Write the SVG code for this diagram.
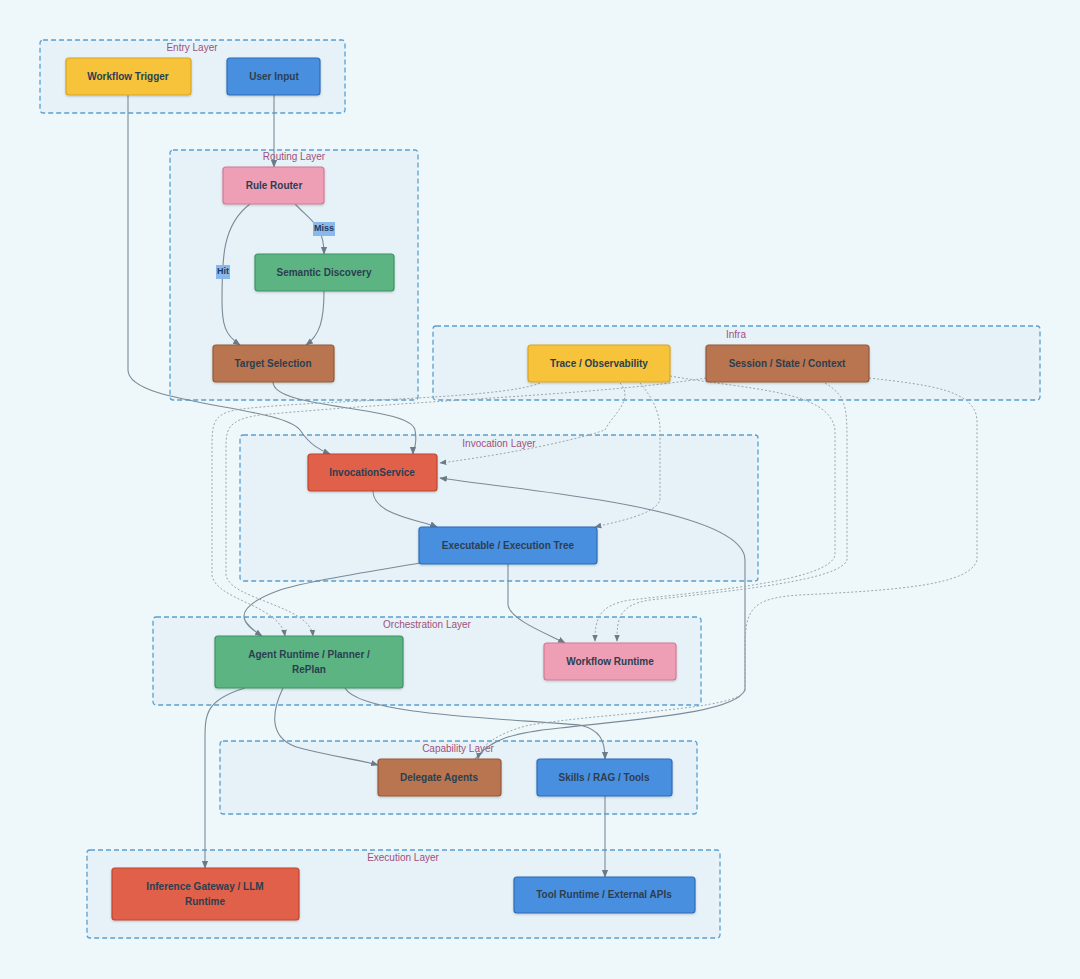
<svg xmlns="http://www.w3.org/2000/svg" width="1080" height="979" viewBox="0 0 1080 979">
<defs>
<style>
.grp{fill:#e6f2f8;stroke:#5a9fd0;stroke-width:1.3;stroke-dasharray:5 3}
.gl{font-family:"Liberation Sans",Arial,sans-serif;font-size:10px;fill:#a0507a;text-anchor:middle}
.nd{stroke-width:1.2;filter:url(#sh)}
.nt{font-family:"Liberation Sans",Arial,sans-serif;font-size:10px;font-weight:bold;fill:#2c3e50;text-anchor:middle;dominant-baseline:middle}
.e{fill:none;stroke:#7a8a96;stroke-width:1.1;marker-end:url(#ar)}
.d{fill:none;stroke:#9aa6ae;stroke-width:1;stroke-dasharray:2 2;marker-end:url(#ar)}
.lb{fill:#8ab8ea}
.lt{font-family:"Liberation Sans",Arial,sans-serif;font-size:9px;font-weight:bold;fill:#1f3a60;text-anchor:middle;dominant-baseline:middle}
</style>
<marker id="ar" viewBox="0 0 10 10" refX="9" refY="5" markerWidth="7" markerHeight="7" orient="auto"><path d="M0,1L10,5L0,9z" fill="#6a7a86"/></marker>
<filter id="sh" x="-10%" y="-20%" width="130%" height="150%"><feDropShadow dx="0" dy="1" stdDeviation="1" flood-opacity="0.2"/></filter>
</defs>
<rect width="1080" height="979" fill="#eef8fa"/>
<g id="groups">
<rect class="grp" x="40" y="40" width="305" height="73" rx="3"/><text class="gl" x="192" y="51">Entry Layer</text>
<rect class="grp" x="170" y="150" width="248" height="250" rx="3"/><text class="gl" x="294" y="160">Routing Layer</text>
<rect class="grp" x="433" y="326" width="607" height="74" rx="3"/><text class="gl" x="736" y="338">Infra</text>
<rect class="grp" x="240" y="435" width="518" height="146" rx="3"/><text class="gl" x="499" y="447">Invocation Layer</text>
<rect class="grp" x="153" y="617" width="548" height="88" rx="3"/><text class="gl" x="427" y="628">Orchestration Layer</text>
<rect class="grp" x="220" y="741" width="477" height="73" rx="3"/><text class="gl" x="458" y="752">Capability Layer</text>
<rect class="grp" x="87" y="850" width="633" height="88" rx="3"/><text class="gl" x="403" y="861">Execution Layer</text>
</g>
<g id="connectors">
<path class="e" d="M274,95 L274,167"/>
<path class="e" d="M128,95 L128,370 C128,405 280,405 300,430 C310,445 320,450 330,454"/>
<path class="e" d="M273,382 C273,410 410,405 415,430 C418,445 413,450 413,454"/>
<path class="e" d="M250,204 C222,225 222,260 222,300 C222,325 225,335 240,345"/>
<path class="e" d="M295,204 C310,220 324,225 324,254"/>
<path class="e" d="M324,291 C324,320 320,335 306,345"/>
<path class="e" d="M373,491 C373,515 420,520 437,527"/>
<path class="e" d="M420,563 C380,570 310,580 280,590 C225,610 245,625 262,636"/>
<path class="e" d="M508,564 L508,605 C510,620 550,635 565,643"/>
<path class="e" d="M245,688 C205,700 205,715 205,740 L205,868"/>
<path class="e" d="M283,688 C270,715 270,740 300,748 C330,756 360,760 378,765"/>
<path class="e" d="M345,688 C360,715 500,718 580,725 C600,730 605,740 605,759"/>
<path class="e" d="M605,796 L605,877"/>
<path class="e" d="M475,759 C490,740 510,733 560,728 C650,718 735,712 745,690 L745,560 C745,535 690,515 600,500 C540,490 480,484 440,478"/>
<path class="d" d="M620,383 C635,400 612,415 605,430 C560,445 480,458 440,463"/>
<path class="d" d="M640,383 C650,395 660,410 660,430 L660,500 C655,515 615,522 595,527"/>
<path class="d" d="M670,376 C750,390 830,390 835,430 L835,555 C830,580 720,590 630,600 C598,605 595,620 595,641"/>
<path class="d" d="M825,383 C845,395 847,405 847,440 L847,560 C840,580 740,590 650,600 C618,605 617,620 617,641"/>
<path class="d" d="M869,378 C930,385 975,390 977,420 L977,560 C970,585 900,590 800,595 C750,598 745,610 745,650 L745,690 C740,710 610,712 530,725 C500,732 480,745 478,759"/>
<path class="d" d="M540,383 C500,400 300,400 235,410 C212,415 212,425 212,450 L212,575 C215,600 280,605 285,636"/>
<path class="d" d="M706,378 C600,395 420,400 260,415 C226,420 226,430 226,450 L226,575 C230,600 310,605 313,636"/>
</g>
<g id="edge-labels">
<rect class="lb" x="216" y="265" width="14" height="14"/><text class="lt" x="223" y="272">Hit</text>
<rect class="lb" x="313" y="222" width="22" height="14"/><text class="lt" x="324" y="229">Miss</text>
</g>
<g id="n-workflow-trigger"><rect class="nd" x="66" y="58" width="125" height="37" rx="3" fill="#f7c33a" stroke="#d9a520"/><text class="nt" x="128" y="77">Workflow Trigger</text></g>
<g id="n-user-input"><rect class="nd" x="227" y="58" width="93" height="37" rx="3" fill="#4a8fe0" stroke="#2d6cb8"/><text class="nt" x="274" y="77" fill="#1a3560">User Input</text></g>
<g id="n-rule-router"><rect class="nd" x="223" y="167" width="101" height="37" rx="3" fill="#ef9fb5" stroke="#d27a94"/><text class="nt" x="274" y="186">Rule Router</text></g>
<g id="n-semantic"><rect class="nd" x="255" y="254" width="139" height="37" rx="3" fill="#5cb482" stroke="#3d9463"/><text class="nt" x="324" y="273">Semantic Discovery</text></g>
<g id="n-target"><rect class="nd" x="213" y="345" width="121" height="37" rx="3" fill="#b8744f" stroke="#955a3a"/><text class="nt" x="273" y="364">Target Selection</text></g>
<g id="n-trace"><rect class="nd" x="528" y="345" width="142" height="37" rx="3" fill="#f7c33a" stroke="#d9a520"/><text class="nt" x="599" y="364">Trace / Observability</text></g>
<g id="n-session"><rect class="nd" x="706" y="345" width="163" height="37" rx="3" fill="#b8744f" stroke="#955a3a"/><text class="nt" x="787" y="364">Session / State / Context</text></g>
<g id="n-invocation"><rect class="nd" x="308" y="454" width="129" height="37" rx="3" fill="#e0604a" stroke="#c04530"/><text class="nt" x="372" y="473">InvocationService</text></g>
<g id="n-executable"><rect class="nd" x="419" y="527" width="178" height="37" rx="3" fill="#4a8fe0" stroke="#2d6cb8"/><text class="nt" x="508" y="546">Executable / Execution Tree</text></g>
<g id="n-agent"><rect class="nd" x="215" y="636" width="188" height="52" rx="3" fill="#5cb482" stroke="#3d9463"/><text class="nt" x="309" y="655">Agent Runtime / Planner /</text><text class="nt" x="309" y="670">RePlan</text></g>
<g id="n-workflow-runtime"><rect class="nd" x="544" y="643" width="132" height="37" rx="3" fill="#ef9fb5" stroke="#d27a94"/><text class="nt" x="610" y="662">Workflow Runtime</text></g>
<g id="n-delegate"><rect class="nd" x="378" y="759" width="123" height="37" rx="3" fill="#b8744f" stroke="#955a3a"/><text class="nt" x="439" y="778">Delegate Agents</text></g>
<g id="n-skills"><rect class="nd" x="537" y="759" width="135" height="37" rx="3" fill="#4a8fe0" stroke="#2d6cb8"/><text class="nt" x="604" y="778">Skills / RAG / Tools</text></g>
<g id="n-inference"><rect class="nd" x="112" y="868" width="187" height="52" rx="3" fill="#e0604a" stroke="#c04530"/><text class="nt" x="205" y="887">Inference Gateway / LLM</text><text class="nt" x="205" y="902">Runtime</text></g>
<g id="n-tool-runtime"><rect class="nd" x="514" y="877" width="181" height="36" rx="3" fill="#4a8fe0" stroke="#2d6cb8"/><text class="nt" x="604" y="895">Tool Runtime / External APIs</text></g>
</svg>
